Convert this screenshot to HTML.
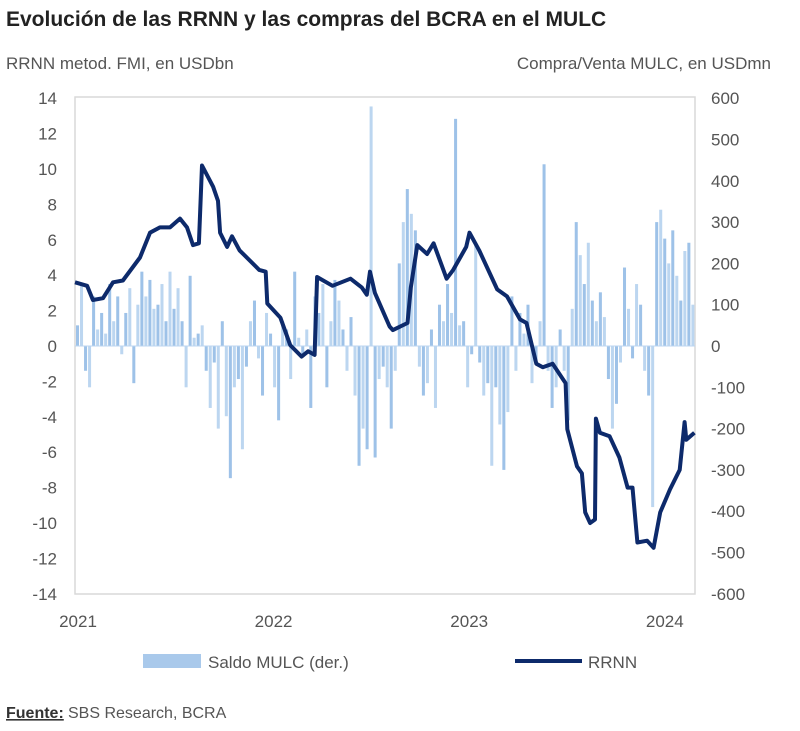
<!DOCTYPE html>
<html><head><meta charset="utf-8"><style>
body{margin:0;background:#fff;width:800px;height:726px;overflow:hidden;font-family:"Liberation Sans",sans-serif}
</style></head><body>
<svg id="c" width="800" height="726" xmlns="http://www.w3.org/2000/svg">
<text x="6" y="26" font-size="21" font-weight="bold" fill="#222">Evolución de las RRNN y las compras del BCRA en el MULC</text>
<text x="6" y="69" font-size="17" fill="#555">RRNN metod. FMI, en USDbn</text>
<text x="771" y="69" font-size="17" fill="#555" text-anchor="end">Compra/Venta MULC, en USDmn</text>
<rect x="75" y="97" width="620" height="497" fill="none" stroke="#d9d9d9" stroke-width="1.5"/>
<g id="bars"></g><g id="axes"></g><g id="line"></g>
<rect x="143" y="654" width="58" height="14" fill="#a9c9eb"/>
<text x="208" y="668" font-size="17" fill="#555">Saldo MULC (der.)</text>
<line x1="515" y1="661" x2="582" y2="661" stroke="#0d2a6b" stroke-width="4"/>
<text x="588" y="668" font-size="17" fill="#555">RRNN</text>
<text x="6" y="718" font-size="16" font-weight="bold" fill="#333" text-decoration="underline">Fuente:</text>
<text x="68" y="718" font-size="16" fill="#555">SBS Research, BCRA</text>
</svg>
<script>
const leftTicks=[14,12,10,8,6,4,2,0,-2,-4,-6,-8,-10,-12,-14];
const rightTicks=[600,500,400,300,200,100,0,-100,-200,-300,-400,-500,-600];
const xTickLabels=["2021","2022","2023","2024"];
const xTickMonths=[0,12,24,36];
const rrnnMonths=[0,0.74,1.1,1.72,2.33,2.94,3.99,4.6,5.21,5.83,6.44,6.87,7.24,7.6,7.79,8.47,8.77,8.9,9.33,9.63,10.1,11.3,11.7,11.8,12.6,13.2,13.9,14.3,14.7,14.85,15.8,16.9,17.6,17.9,18.1,18.4,19.3,19.5,20.4,20.6,21.0,21.6,22.0,22.8,23.2,24.0,24.2,24.8,25.9,26.5,27.3,27.7,28.3,28.7,29.3,30.1,30.2,30.8,31.1,31.3,31.6,31.9,31.96,32.2,32.8,33.4,33.9,34.2,34.5,35.1,35.5,35.9,36.5,37.1,37.4,37.5,38.0];
const rrnnValues=[3.6,3.4,2.6,2.7,3.6,3.7,5.0,6.4,6.7,6.7,7.2,6.7,5.7,5.8,10.2,9.0,8.2,6.4,5.6,6.2,5.4,4.3,4.2,2.4,1.6,0.05,-0.6,-0.3,-0.5,3.9,3.4,3.8,3.3,2.9,4.2,3.0,1.1,0.9,1.3,3.3,5.7,5.2,5.8,3.8,4.3,5.6,6.4,5.4,3.2,2.8,1.5,1.3,-1.0,-1.2,-1.0,-2.1,-4.7,-6.8,-7.2,-9.4,-10.0,-9.8,-4.1,-4.9,-5.1,-6.3,-8.0,-8.0,-11.1,-11.0,-11.4,-9.4,-8.1,-7.0,-4.3,-5.3,-4.9];
const mulcValues=[50,150,-60,-100, 120,40,80,30, 150,60,120,-20, 80,140,-90,100, 180,120,160,90, 100,150,60,180, 90,140,60,-100, 170,20,30,50, -60,-150,-40,-200, 60,-170,-320,-100, -80,-250,-50,60, 110,-30,-120,80, 30,-100,-180,60, 40,-80,180,20, -20,40,-150,120, 80,150,-100,60, 160,110,40,-60, 70,-120,-290,-200, -250,580,-270,-80, -50,-100,-200,-60, 200,300,380,320, 280,-50,-120,-90, 40,-150,100,60, 150,80,550,50, 60,-100,-20,250, -40,-120,-90,-290, -100,-190,-300,-160, 120,-60,80,30, 100,-90,-40,60, 440,-60,-150,-100, 40,-60,-180,90, 300,220,150,250, 110,60,130,70, -80,-200,-140,-40, 190,90,-30,150, 100,-60,-120,-390, 300,330,260,200, 280,170,110,230, 250,100];
const X0=75,PXM=16.3,Y0=346,PYL=17.7,PYR=0.413,SPAN=38;
const xm=m=>X0+m*PXM, yl=v=>Y0-v*PYL, yr=v=>Y0-v*PYR;
const NS="http://www.w3.org/2000/svg";
function mk(t,a,p){const e=document.createElementNS(NS,t);for(const k in a)e.setAttribute(k,a[k]);p.appendChild(e);return e;}
const axes=document.getElementById('axes'),bars=document.getElementById('bars'),line=document.getElementById('line');
leftTicks.forEach(v=>{const t=mk('text',{x:57,y:yl(v)+6,'font-size':17,fill:'#555','text-anchor':'end'},axes);t.textContent=v;

});
rightTicks.forEach(v=>{const t=mk('text',{x:711,y:yr(v)+6,'font-size':17,fill:'#555'},axes);t.textContent=v;

});
xTickLabels.forEach((l,i)=>{const t=mk('text',{x:xm(xTickMonths[i])+3,y:627,'font-size':17,fill:'#555','text-anchor':'middle'},axes);t.textContent=l;

});
const step=SPAN*PXM/mulcValues.length;
mulcValues.forEach((v,i)=>{const x=X0+1+i*step;const y=yr(Math.max(v,0));const h=Math.abs(yr(v)-Y0);
const r=mk('rect',{x:x,y:y,width:step*0.75,height:Math.max(h,0.5),fill:i%2?'#bcd6f0':'#9ec2e8'},bars);

});
mk('line',{x1:75,x2:695,y1:Y0,y2:Y0,stroke:'#bcd6f0','stroke-width':1},bars);
const d=rrnnMonths.map((m,i)=>(i?'L':'M')+xm(m).toFixed(1)+' '+yl(rrnnValues[i]).toFixed(1)).join(' ');
const p=mk('path',{d:d,fill:'none',stroke:'#0d2a6b','stroke-width':4,'stroke-linejoin':'round'},line);


</script>
</body></html>
